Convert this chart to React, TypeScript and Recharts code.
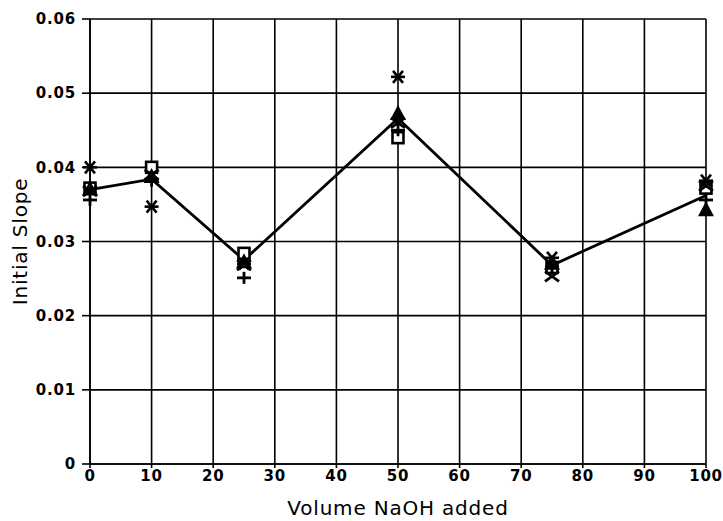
import React from 'react';
import { ComposedChart, Line, Scatter, XAxis, YAxis, CartesianGrid, Label } from 'recharts';

const volumes = [0, 10, 25, 50, 75, 100];
const squareVals = [0.0372, 0.0400, 0.0284, 0.0440, 0.0265, 0.0372];
const triangleVals = [0.0370, 0.0387, 0.0272, 0.0472, 0.0270, 0.0342];
const asteriskVals = [0.0400, 0.0347, 0.0270, 0.0522, 0.0278, 0.0382];
const plusVals = [0.0356, 0.0382, 0.0251, 0.0450, 0.0265, 0.0356];
const crossVals = [0.0368, 0.0390, 0.0268, 0.0460, 0.0253, 0.0375];
const meanVals = [0.0370, 0.0384, 0.0275, 0.0466, 0.0268, 0.0362];

const xTicks = [0, 10, 20, 30, 40, 50, 60, 70, 80, 90, 100];
const yTicks = [0, 0.01, 0.02, 0.03, 0.04, 0.05, 0.06];

const toPoints = (vals: number[]) => volumes.map((v, i) => ({ x: v, y: vals[i] }));

const Square = ({ cx, cy }: any) => (
  <rect x={cx - 5.5} y={cy - 5.5} width={11} height={11} fill="white" stroke="black" strokeWidth={2.6} />
);
const Triangle = ({ cx, cy }: any) => (
  <path d={`M${cx},${cy - 9} L${cx + 8},${cy + 6} L${cx - 8},${cy + 6} Z`} fill="black" />
);
const Asterisk = ({ cx, cy }: any) => (
  <g stroke="black" strokeWidth={2.6}>
    <line x1={cx - 7} y1={cy} x2={cx + 7} y2={cy} />
    <line x1={cx - 5} y1={cy - 6} x2={cx + 5} y2={cy + 6} />
    <line x1={cx + 5} y1={cy - 6} x2={cx - 5} y2={cy + 6} />
  </g>
);
const Plus = ({ cx, cy }: any) => (
  <g stroke="black" strokeWidth={2.8}>
    <line x1={cx - 7} y1={cy} x2={cx + 7} y2={cy} />
    <line x1={cx} y1={cy - 6} x2={cx} y2={cy + 6} />
  </g>
);
const Cross = ({ cx, cy }: any) => (
  <g stroke="black" strokeWidth={2.8}>
    <line x1={cx - 7} y1={cy - 5} x2={cx + 7} y2={cy + 5} />
    <line x1={cx + 7} y1={cy - 5} x2={cx - 7} y2={cy + 5} />
  </g>
);

const fontFamily = '"DejaVu Sans", sans-serif';
const tickStyle = { fill: 'black', fontFamily, fontWeight: 'bold', fontSize: 15, letterSpacing: 0.8 };

const App: React.FC = () => {
  return (
    <div style={{ position: 'absolute', left: 0, top: 0, background: 'white' }}>
      <ComposedChart width={723} height={521} margin={{ top: 19, right: 17, bottom: 0, left: 0 }}>
        <CartesianGrid stroke="black" strokeWidth={1.6} />
        <XAxis
          dataKey="x"
          type="number"
          domain={[0, 100]}
          ticks={xTicks}
          height={57}
          stroke="black"
          strokeWidth={1.6}
          tickSize={4}
          tick={tickStyle}
        >
          <Label value="Volume NaOH added" position="insideBottom" offset={6}
            style={{ fill: 'black', fontFamily, fontSize: 20, letterSpacing: 0.8 }} />
        </XAxis>
        <YAxis
          type="number"
          domain={[0, 0.06]}
          ticks={yTicks}
          width={90}
          stroke="black"
          strokeWidth={1.6}
          tickSize={8}
          tickMargin={6}
          tickFormatter={(v: number) => (v === 0 ? '0' : v.toFixed(2))}
          tick={tickStyle}
        >
          <Label value="Initial Slope" angle={-90} position="insideLeft" offset={20}
            style={{ fill: 'black', fontFamily, fontSize: 20, letterSpacing: 0.8, textAnchor: 'middle' }} />
        </YAxis>
        <Line data={toPoints(meanVals)} dataKey="y" stroke="black" strokeWidth={2.8} dot={false} isAnimationActive={false} />
        <Scatter data={toPoints(squareVals)} dataKey="y" shape={Square} isAnimationActive={false} />
        <Scatter data={toPoints(plusVals)} dataKey="y" shape={Plus} isAnimationActive={false} />
        <Scatter data={toPoints(crossVals)} dataKey="y" shape={Cross} isAnimationActive={false} />
        <Scatter data={toPoints(asteriskVals)} dataKey="y" shape={Asterisk} isAnimationActive={false} />
        <Scatter data={toPoints(triangleVals)} dataKey="y" shape={Triangle} isAnimationActive={false} />
      </ComposedChart>
    </div>
  );
};

export default App;
